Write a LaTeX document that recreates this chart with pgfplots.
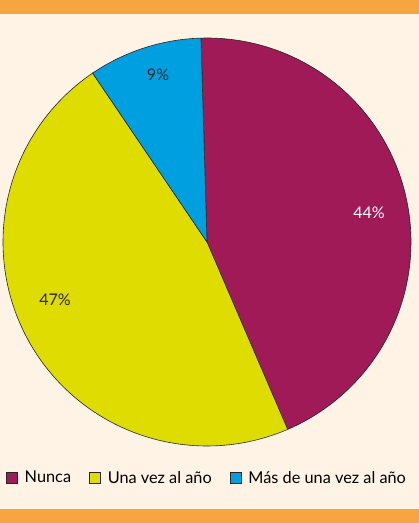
\documentclass[border=0pt]{standalone}
\usepackage{pgfplots}
\pgfplotsset{compat=1.18}
\usepackage{fontspec}
\setmainfont{Lato}
\definecolor{bgc}{HTML}{FEF3E4}
\definecolor{barc}{HTML}{F7A540}
\definecolor{cnunca}{HTML}{A01A58}
\definecolor{cuna}{HTML}{DEDC00}
\definecolor{cmas}{HTML}{009FE0}
\begin{document}
\begin{tikzpicture}[x=1pt,y=1pt]
\fill[bgc] (0,0) rectangle (419,523);
\fill[barc] (0,509) rectangle (419,523);
\fill[barc] (0,0) rectangle (419,14);
% values (percent): Nunca 44, Una vez al anio 47, Mas de una vez 9
% start at 91.7 deg, clockwise; 1% = 3.6 deg
\begin{axis}[
  at={(207pt,281pt)}, anchor=center,
  scale only axis, width=408pt, height=408pt,
  xmin=-1, xmax=1, ymin=-1, ymax=1,
  hide axis, clip=false,
  legend style={draw=none, fill=none, at={(0.5,-0.078)}, anchor=center,
    font=\fontsize{16.3}{18}\selectfont, legend columns=3,
    /tikz/every odd column/.append style={column sep=5pt},
    /tikz/every even column/.append style={column sep=16pt},
    legend cell align=left, inner sep=0pt},
  legend image code/.code={\draw[#1, draw=black!85, line width=0.7pt] (0pt,-5.5pt) rectangle (11pt,5.5pt);},
]
\addplot[fill=cnunca, draw=black!85, line width=0.6pt, domain=91.7:-66.7, samples=120]
  ({cos(x)},{sin(x)}) -- (axis cs:0,0) -- cycle;
\addlegendentry{Nunca}
\addplot[fill=cuna, draw=black!85, line width=0.6pt, domain=-66.7:-235.9, samples=120]
  ({cos(x)},{sin(x)}) -- (axis cs:0,0) -- cycle;
\addlegendentry{Una vez al año}
\addplot[fill=cmas, draw=black!85, line width=0.6pt, domain=-235.9:-268.3, samples=40]
  ({cos(x)},{sin(x)}) -- (axis cs:0,0) -- cycle;
\addlegendentry{Más de una vez al año}
\node[white, font=\fontsize{16}{18}\selectfont] at (axis cs:0.794,0.142) {44\%};
\node[black!85, font=\fontsize{16}{18}\selectfont] at (axis cs:-0.745,-0.284) {47\%};
\node[black!85, font=\fontsize{16}{18}\selectfont] at (axis cs:-0.240,0.819) {9\%};
\end{axis}
\end{tikzpicture}
\end{document}
